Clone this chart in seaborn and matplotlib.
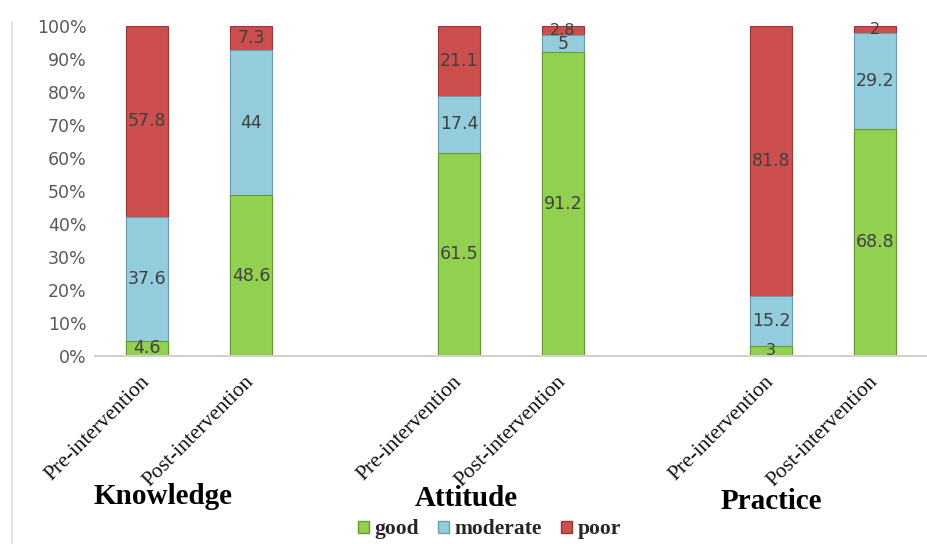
import numpy as np
import pandas as pd
import matplotlib
matplotlib.use("Agg")
import matplotlib.pyplot as plt
from matplotlib.patches import Patch
import seaborn as sns

# ---- data ----
groups = ["Knowledge", "Attitude", "Practice"]
phases = ["Pre-intervention", "Post-intervention"]
good = [4.6, 48.6, 61.5, 91.2, 3, 68.8]
moderate = [37.6, 44, 17.4, 5, 15.2, 29.2]
poor = [57.8, 7.3, 21.1, 2.8, 81.8, 2]
levels = ["good", "moderate", "poor"]
colors = {"good": "#92d050", "moderate": "#93cddd", "poor": "#cc4f4d"}
edges = {"good": "#6a9a35", "moderate": "#6b9fad", "poor": "#9a3533"}

slots = [0, 1, 3, 4, 6, 7]
labels = [p for g in groups for p in phases]

g = np.array(good, float)
m = np.array(moderate, float)
p = np.array(poor, float)
tot = g + m + p
gn, mn, pn = g / tot * 100, m / tot * 100, p / tot * 100

df = pd.DataFrame({
    "pos": slots,
    "cum_good": gn,
    "cum_mod": gn + mn,
    "cum_poor": gn + mn + pn,
})

sns.set_theme(style="white")
plt.rcParams["font.family"] = ["DejaVu Sans"]

fig = plt.figure(figsize=(9.27, 5.44), dpi=100)
ax = fig.add_axes([0.1025, 0.346, 0.8975, 0.606])

for col, lev in [("cum_poor", "poor"), ("cum_mod", "moderate"), ("cum_good", "good")]:
    sns.barplot(data=df, x="pos", y=col, native_scale=True, width=0.4,
                color=colors[lev], edgecolor=edges[lev], linewidth=0.8,
                saturation=1, ax=ax, errorbar=None)

# value labels
bottoms = [np.zeros(6), gn, gn + mn]
heights = [gn, mn, pn]
raws = [g, m, p]
for b, h, r in zip(bottoms, heights, raws):
    for x, bb, hh, rr in zip(slots, b, h, r):
        txt = f"{rr:g}"
        fs = 12.5 if hh >= 4 else 11.5
        ax.text(x, bb + hh / 2, txt, ha="center", va="center",
                fontsize=fs, color="#404040", family="DejaVu Sans")

ax.set_xlim(-0.5, 7.5)
ax.set_ylim(0, 100)
ax.set_yticks(np.arange(0, 101, 10))
ax.set_yticklabels([f"{v}%" for v in range(0, 101, 10)], color="#595959", fontsize=12.5)
ax.set_xticks(slots)
ax.set_xticklabels(labels, rotation=45, ha="right", va="center", rotation_mode="anchor",
                   family="Liberation Serif", fontsize=15.5, color="#111111")
ax.tick_params(axis="x", length=0, pad=17)
ax.tick_params(axis="y", length=0, pad=6)
ax.set_xlabel("")
ax.set_ylabel("")
for s in ["top", "right", "left"]:
    ax.spines[s].set_visible(False)
ax.spines["bottom"].set_color("#d0d0d0")
ax.spines["bottom"].set_linewidth(1.5)

# group labels
for gx, gname, gy in [(0.176, "Knowledge", 0.088), (0.503, "Attitude", 0.084), (0.832, "Practice", 0.078)]:
    fig.text(gx, gy, gname, ha="center", va="center", family="Liberation Serif",
             fontweight="bold", fontsize=21, color="black")

# left border line of the original image
fig.add_artist(plt.Line2D([0.013, 0.013], [0.0, 0.96], color="#dddddd", lw=1.2))

handles = [Patch(facecolor=colors[l], edgecolor=edges[l], label=l) for l in levels]
fig.legend(handles=handles, loc="center", bbox_to_anchor=(0.528, 0.027), ncol=3,
           frameon=False, handlelength=0.5, handleheight=0.5, handletextpad=0.25,
           columnspacing=0.9, prop={"family": "Liberation Serif", "weight": "bold", "size": 15.5})

fig.savefig("out.png", dpi=100)
